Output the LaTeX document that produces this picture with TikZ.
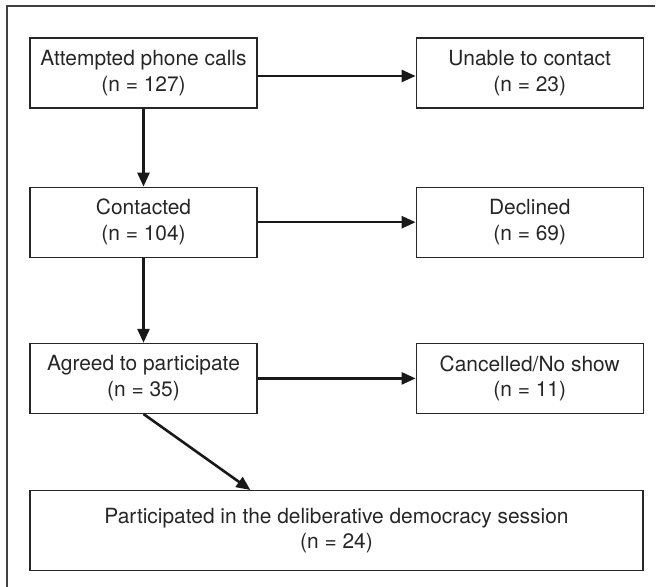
\documentclass[tikz,border=0pt]{standalone}
\usepackage{fontspec}
\setmainfont{TeX Gyre Heros}
\usetikzlibrary{positioning, arrows.meta}

\tikzset{
  box/.style={draw=black!85, line width=1.2bp, minimum width=227bp, minimum height=70bp,
    align=center, text=black!85, font=\fontsize{21}{26}\selectfont, inner sep=0pt},
  flow/.style={line width=2.6bp, black!90, -{Triangle[length=14bp,width=12bp]}}
}

\begin{document}
\begin{tikzpicture}[x=1bp, y=1bp, node distance=78bp and 158bp]
\useasboundingbox (0,0) rectangle (663,587);
\draw[line width=1.5bp, black!75] (655,581) -- (7,581) -- (7,-2);

\node[box] (att) at (143.5,514) {Attempted phone calls\\(n = 127)};
\node[box] (unable) [right=of att] {Unable to contact\\(n = 23)};
\node[box] (cont) [below=of att] {Contacted\\(n = 104)};
\node[box] (decl) [right=of cont] {Declined\\(n = 69)};
\node[box] (agreed) [below=85bp of cont] {Agreed to participate\\(n = 35)};
\node[box] (cancel) [right=of agreed] {Cancelled/No show\\(n = 11)};
\node[box] (part) [below=76bp of agreed.south west, anchor=north west, minimum width=613bp, minimum height=80bp] {Participated in the deliberative democracy session\\(n = 24)};

\coordinate (partin) at ([xshift=221bp]part.north west);

\path[flow]
	([yshift=-3bp]att.east) edge ([yshift=-3bp]unable.west)
	(att) edge (cont)
	(cont) edge (decl)
	(cont) edge (agreed)
	(agreed) edge (cancel)
	(agreed.south) edge (partin)
	;
\end{tikzpicture}
\end{document}
